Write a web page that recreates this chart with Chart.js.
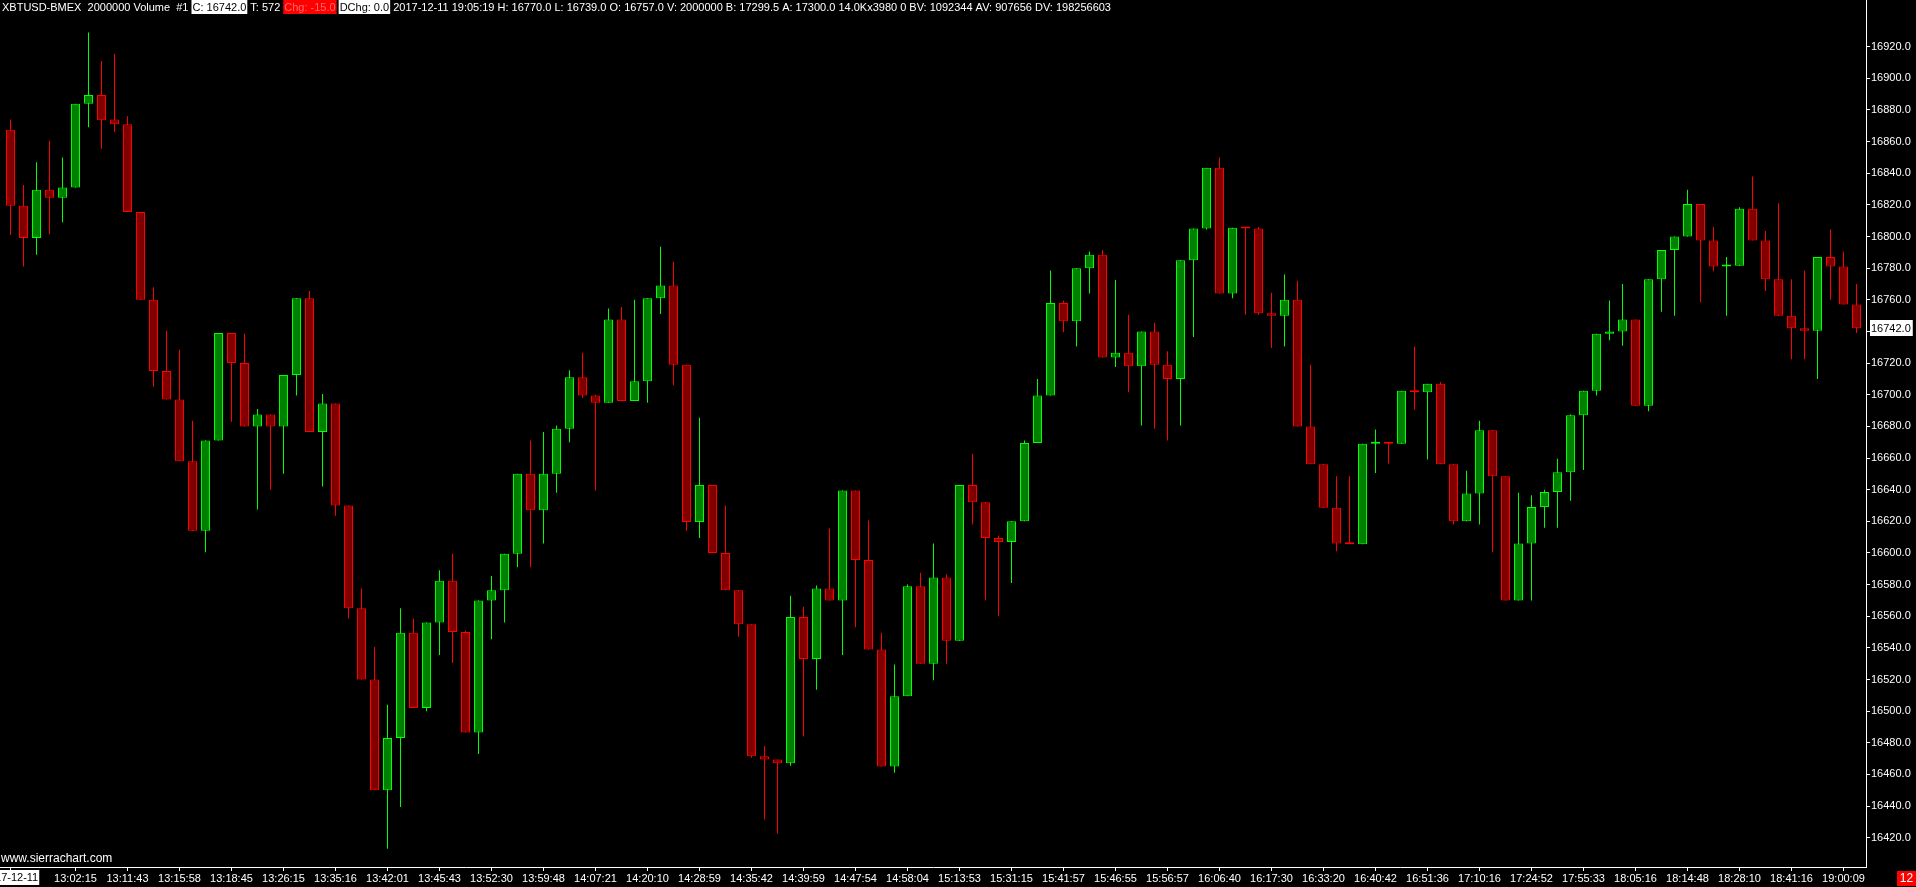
<!DOCTYPE html>
<html>
<head>
<meta charset="utf-8">
<title>XBTUSD-BMEX</title>
<script src="https://cdn.jsdelivr.net/npm/chart.js@4"></script>
<style>
  html, body { margin: 0; padding: 0; background: #000; overflow: hidden; }
  #chart { display: block; background: #000; }
</style>
</head>
<body>
<canvas id="chart" width="1916" height="887"></canvas>
<script>
// OHLC per bar (2000000 volume bars)
const open = [16867.5, 16819.5, 16799, 16829.5, 16824.5, 16831, 16884, 16889.5, 16874, 16871,
  16815.5, 16760, 16715, 16697, 16658, 16614, 16671, 16739, 16720, 16680,
  16687.5, 16680, 16712.5, 16761, 16676.5, 16694.5, 16630, 16565, 16520, 16450,
  16483, 16549.5, 16502, 16556, 16582.5, 16550, 16486.5, 16570, 16576.5, 16599.5,
  16650, 16627, 16650, 16678.5, 16711, 16699.5, 16695, 16747.5, 16696, 16708.5,
  16761, 16769, 16719, 16619.5, 16643, 16600, 16576.5, 16555, 16471.5, 16469.5,
  16467, 16559.5, 16533, 16577.5, 16570, 16639.5, 16595.5, 16539, 16465, 16509.5,
  16579, 16530, 16584.5, 16544.5, 16643, 16632, 16609.5, 16607, 16620, 16669.5,
  16699.5, 16758, 16746.5, 16780, 16788.5, 16723.5, 16726.5, 16718, 16740, 16719,
  16710, 16785, 16805, 16843.5, 16764, 16805.5, 16805, 16751.5, 16750, 16760,
  16680, 16656, 16628.5, 16606, 16605.5, 16669, 16670, 16669, 16702.5, 16701.5,
  16707, 16656, 16620, 16637.5, 16677.5, 16648.5, 16570, 16606, 16629, 16638.5,
  16651, 16687, 16702.5, 16738.5, 16740, 16747.5, 16693, 16773, 16791.5, 16800,
  16820.5, 16797.5, 16781, 16781.5, 16817.5, 16797.5, 16773, 16750, 16742, 16740.5,
  16787, 16781, 16757];
const high = [16874, 16832.5, 16847, 16860.5, 16850, 16884, 16929, 16911, 16915.5, 16876,
  16815.5, 16768, 16740.5, 16728.5, 16683.5, 16671, 16739, 16739, 16738.5, 16691,
  16687.5, 16712.5, 16761, 16765.5, 16700.5, 16694.5, 16630, 16577.5, 16540.5, 16504,
  16565, 16558.5, 16556, 16589, 16599.5, 16551, 16570, 16585.5, 16599.5, 16650,
  16671, 16676.5, 16680.5, 16715.5, 16726.5, 16700, 16754.5, 16755.5, 16760, 16761,
  16793.5, 16784, 16719, 16685.5, 16643, 16630, 16576.5, 16555, 16478, 16469.5,
  16573, 16566, 16579.5, 16615.5, 16639.5, 16639.5, 16620.5, 16549.5, 16529.5, 16580,
  16587.5, 16606, 16586.5, 16643, 16662.5, 16632, 16611, 16620, 16671, 16710,
  16778.5, 16759.5, 16780, 16790.5, 16791.5, 16772.5, 16750.5, 16740, 16745.5, 16727.5,
  16785, 16805, 16843.5, 16850, 16805.5, 16805.5, 16806, 16764.5, 16776, 16772,
  16719, 16656, 16648.5, 16648.5, 16669, 16678, 16670, 16702.5, 16730.5, 16707,
  16708, 16656, 16652, 16683.5, 16677.5, 16648.5, 16638, 16636.5, 16640, 16659.5,
  16687.5, 16702.5, 16738.5, 16759.5, 16770, 16747.5, 16773, 16791.5, 16800, 16829.5,
  16820.5, 16806, 16787, 16818.5, 16838, 16803.5, 16821, 16773, 16778.5, 16787,
  16804.5, 16790.5, 16770];
const low = [16801, 16781, 16788.5, 16801.5, 16809, 16831, 16869, 16855.5, 16866, 16815.5,
  16760, 16705, 16697, 16658, 16614, 16600.5, 16671, 16683, 16680, 16627.5,
  16640, 16650, 16699.5, 16676.5, 16642, 16623.5, 16558.5, 16520, 16450, 16413,
  16439.5, 16502, 16500, 16535.5, 16530.5, 16486.5, 16473, 16545.5, 16556, 16591,
  16591, 16606, 16638, 16670, 16698, 16639.5, 16695, 16696, 16696, 16695,
  16751, 16706, 16614, 16609.5, 16600, 16576.5, 16547, 16470.5, 16431.5, 16422.5,
  16465.5, 16484, 16513.5, 16570, 16535.5, 16553, 16539, 16465, 16461, 16509.5,
  16530, 16519.5, 16530, 16544.5, 16618, 16570, 16560, 16581, 16620, 16669.5,
  16699.5, 16739.5, 16730.5, 16764, 16723.5, 16717.5, 16701.5, 16680.5, 16678.5, 16671,
  16680.5, 16736.5, 16804.5, 16764, 16761, 16750.5, 16750.5, 16729.5, 16730.5, 16680,
  16656, 16628.5, 16601, 16605.5, 16605.5, 16650.5, 16656.5, 16669, 16690.5, 16659,
  16656, 16618, 16620, 16618, 16600.5, 16570, 16570, 16570, 16616, 16616,
  16633, 16652.5, 16699.5, 16734.5, 16731, 16693, 16689.5, 16752.5, 16750, 16800,
  16758.5, 16778, 16750, 16781.5, 16797.5, 16765.5, 16750, 16722.5, 16722.5, 16710,
  16760, 16757, 16739];
const close = [16819.5, 16799, 16829.5, 16824.5, 16831, 16884, 16889.5, 16873.5, 16871, 16815.5,
  16760, 16715, 16697, 16658, 16614, 16671, 16739, 16720, 16680, 16687.5,
  16680, 16712.5, 16761, 16676.5, 16694.5, 16630, 16565, 16520, 16450, 16483,
  16549.5, 16502, 16556, 16582.5, 16550, 16486.5, 16570, 16576.5, 16599.5, 16650,
  16627, 16650, 16678.5, 16711, 16699.5, 16695, 16747.5, 16696, 16708.5, 16761,
  16769, 16719, 16619.5, 16643, 16600, 16576.5, 16555, 16471.5, 16469.5, 16467,
  16559.5, 16533, 16577.5, 16570, 16639.5, 16595.5, 16539, 16465, 16509.5, 16579,
  16530, 16584.5, 16544.5, 16643, 16632, 16609.5, 16607, 16620, 16669.5, 16699.5,
  16758, 16746.5, 16780, 16788.5, 16723.5, 16726.5, 16718, 16740, 16719, 16710,
  16785, 16805, 16843.5, 16764, 16805.5, 16805, 16751.5, 16750, 16760, 16680,
  16656, 16628.5, 16606, 16605.5, 16669, 16670, 16669, 16702.5, 16701.5, 16707,
  16656, 16620, 16637.5, 16677.5, 16648.5, 16570, 16606, 16629, 16638.5, 16651,
  16687, 16702.5, 16738.5, 16740, 16747.5, 16693, 16773, 16791.5, 16800, 16820.5,
  16797.5, 16781, 16781.5, 16817.5, 16797.5, 16773, 16750, 16742, 16740.5, 16787,
  16781, 16757, 16742];

// time axis: bar index -> label
const tickBars = [0, 5, 9, 13, 17, 21, 25, 29, 33, 37, 41, 45, 49, 53, 57, 61, 65, 69,
  73, 77, 81, 85, 89, 93, 97, 101, 105, 109, 113, 117, 121, 125, 129, 133, 137, 141];
const tickLabels = ['', '13:02:15', '13:11:43', '13:15:58', '13:18:45', '13:26:15', '13:35:16',
  '13:42:01', '13:45:43', '13:52:30', '13:59:48', '14:07:21', '14:20:10', '14:28:59',
  '14:35:42', '14:39:59', '14:47:54', '14:58:04', '15:13:53', '15:31:15', '15:41:57',
  '15:46:55', '15:56:57', '16:06:40', '16:17:30', '16:33:20', '16:40:42', '16:51:36',
  '17:10:16', '17:24:52', '17:55:33', '18:05:16', '18:14:48', '18:28:10', '18:41:16',
  '19:00:09'];
const sessionDate = '2017-12-11';

// price axis
const priceMin = 16401.5;
const priceMax = 16949.5;
const priceStep = 20;
const priceTopTick = 16920;

// header line: [text, background, text colour]
const header = [
  ['XBTUSD-BMEX  2000000 Volume  #1', null, '#fff'],
  ['C: 16742.0', '#fff', '#000'],
  ['T: 572', null, '#fff'],
  ['Chg: -15.0', '#ff0000', '#ff6a6a'],
  ['DChg: 0.0', '#fff', '#000'],
  ['2017-12-11 19:05:19 H: 16770.0 L: 16739.0 O: 16757.0 V: 2000000 B: 17299.5 A: 17300.0 14.0Kx3980 0 BV: 1092344 AV: 907656 DV: 198256603', null, '#fff']
];

const FONT = '"Liberation Sans", Arial, sans-serif';
const UP = '#00ff00', UP_FILL = '#008000', DN = '#ff0000', DN_FILL = '#800000';

const isUp = close.map((c, i) => c >= open[i]);
const bodies = open.map((o, i) => ({ x: i, y: [o, close[i]] }));
const wicks = low.map((l, i) => ({ x: i, y: [l, high[i]] }));

const overlay = {
  id: 'overlay',
  afterDraw(chart) {
    const ctx = chart.ctx;
    const xs = chart.scales.x, ys = chart.scales.y;
    ctx.save();
    ctx.textBaseline = 'middle';

    // header strip
    ctx.font = '11px ' + FONT;
    let px = 2;
    header.forEach(([text, bg, fg]) => {
      const w = ctx.measureText(text).width;
      if (bg) {
        ctx.fillStyle = bg;
        ctx.fillRect(px - 1, 0, w + 2, 14);
      }
      ctx.fillStyle = fg;
      ctx.fillText(text, px, 7.5);
      px += w + 4;
    });

    // date label under first bar
    const dx = xs.getPixelForValue(0);
    const dw = ctx.measureText(sessionDate).width;
    ctx.fillStyle = '#fff';
    ctx.fillRect(dx - dw / 2 - 1, 870, dw + 2, 15);
    ctx.fillStyle = '#000';
    ctx.textAlign = 'center';
    ctx.fillText(sessionDate, dx, 878);

    // last price box
    const last = close[close.length - 1];
    const ly = ys.getPixelForValue(last);
    ctx.textAlign = 'left';
    const lt = last.toFixed(1);
    const lw = ctx.measureText(lt).width;
    ctx.fillStyle = '#fff';
    ctx.fillRect(1870, Math.round(ly) - 8, lw + 3, 16);
    ctx.fillStyle = '#000';
    ctx.fillText(lt, 1871, ly + 0.5);

    // watermark
    ctx.font = '12px ' + FONT;
    ctx.fillStyle = '#fff';
    ctx.fillText('www.sierrachart.com', 1, 859);

    // bar counter box
    ctx.fillStyle = '#ff0000';
    ctx.fillRect(1897, 871, 19, 15);
    ctx.fillStyle = '#fff';
    ctx.textAlign = 'center';
    ctx.fillText('12', 1906.5, 878.5);
    ctx.restore();
  }
};

new Chart(document.getElementById('chart'), {
  type: 'bar',
  data: {
    datasets: [
      {
        label: 'body',
        data: bodies,
        backgroundColor: isUp.map(u => u ? UP_FILL : DN_FILL),
        borderColor: isUp.map(u => u ? UP : DN),
        borderWidth: 1,
        borderSkipped: false,
        inflateAmount: 0,
        barThickness: 9,
        minBarLength: 2,
        grouped: false
      },
      {
        label: 'wick',
        data: wicks,
        backgroundColor: isUp.map(u => u ? UP : DN),
        borderWidth: 0,
        inflateAmount: 0,
        barThickness: 1,
        grouped: false
      }
    ]
  },
  options: {
    responsive: false,
    animation: false,
    events: [],
    layout: { padding: 0 },
    plugins: {
      legend: { display: false },
      tooltip: { enabled: false }
    },
    scales: {
      x: {
        type: 'linear',
        offset: false,
        min: -10.5 / 13,
        max: -10.5 / 13 + 1866 / 13,
        grid: { display: true, drawOnChartArea: false, offset: false, color: '#fff', tickLength: 4 },
        border: { display: true, color: '#fff', width: 1 },
        ticks: {
          color: '#fff',
          font: { family: FONT, size: 11 },
          padding: 1,
          autoSkip: false,
          maxRotation: 0,
          callback: (v, i) => tickLabels[i]
        },
        afterBuildTicks: s => { s.ticks = tickBars.map(v => ({ value: v })); },
        afterFit: s => { s.height = 20; s.paddingLeft = 0; s.paddingRight = 0; }
      },
      y: {
        position: 'right',
        min: priceMin,
        max: priceMax,
        grid: { display: true, drawOnChartArea: false, color: '#fff', tickLength: 4 },
        border: { display: true, color: '#fff', width: 1 },
        ticks: {
          stepSize: priceStep,
          includeBounds: false,
          color: '#fff',
          font: { family: FONT, size: 11 },
          padding: 1,
          callback: v => v.toFixed(1)
        },
        afterBuildTicks: s => { s.ticks = s.ticks.filter(t => t.value <= priceTopTick); },
        afterFit: s => { s.width = 50; s.paddingTop = 0; s.paddingBottom = 0; }
      }
    }
  },
  plugins: [overlay]
});
</script>
</body>
</html>
